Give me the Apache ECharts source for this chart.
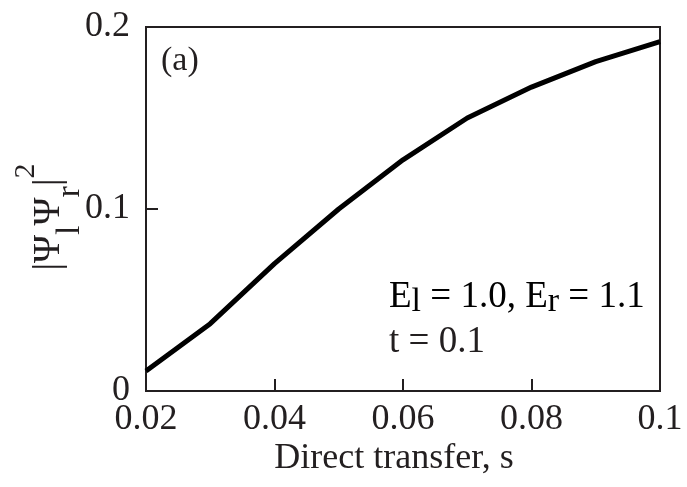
<!DOCTYPE html>
<html>
<head>
<meta charset="utf-8">
<script src="https://cdn.jsdelivr.net/npm/echarts@6/dist/echarts.min.js"></script>
<style>
  html, body { margin: 0; padding: 0; background: #fff; }
  #chart { width: 687px; height: 487px; }
</style>
</head>
<body>
<div id="chart"></div>
<script>
// direct transfer s (x) and overlap |Psi_l Psi_r|^2 (y)
const transfer = [0.02, 0.03, 0.04, 0.05, 0.06, 0.07, 0.08, 0.09, 0.1]
const overlap = [0.011, 0.037, 0.070, 0.100, 0.127, 0.150, 0.167, 0.181, 0.192]

const panelLabel = '(a)'
const energyText = '{m|E}{s|l}{m| = 1.0, E}{s|r}{m| = 1.1}'
const hoppingText = 't = 0.1'
const yTitle = '{m||Ψ}{s|l}{m|Ψ}{s|r}{m||}{p|2}'

const serif = "'Liberation Serif', 'Times New Roman', serif"
const ink = '#231f20'

// subscripts sit a few px low, nearly full size, like the original
const noteRich = {
  m: { fontSize: 37, lineHeight: 44, fontFamily: serif, color: ink },
  s: { fontSize: 34, lineHeight: 26, fontFamily: serif, color: ink, verticalAlign: 'bottom' }
}
const titleRich = {
  m: { fontSize: 38, lineHeight: 76, fontFamily: serif, color: ink },
  s: { fontSize: 34, lineHeight: 64, fontFamily: serif, color: ink, verticalAlign: 'bottom' },
  p: { fontSize: 30, lineHeight: 30, fontFamily: serif, color: ink, verticalAlign: 'top' }
}

const chart = echarts.init(document.getElementById('chart'))
const fmt = v => String(Math.round(v * 100) / 100)

const option = {
  animation: false,
  backgroundColor: '#fff',
  grid: {
    left: 146,
    right: 27,
    top: 27,
    bottom: 96,
    outerBoundsMode: 'none',
    containLabel: false,
    show: true,
    borderColor: ink,
    borderWidth: 2
  },
  xAxis: {
    type: 'value',
    min: 0.02,
    max: 0.1,
    interval: 0.02,
    name: 'Direct transfer, s',
    nameLocation: 'middle',
    nameGap: 50,
    nameMoveOverlap: false,
    nameTextStyle: { fontSize: 36, fontFamily: serif, color: ink, padding: [0, 18, 0, 0] },
    axisLine: { lineStyle: { color: ink, width: 2 } },
    axisTick: { inside: true, length: 12, lineStyle: { color: ink, width: 2 } },
    axisLabel: { margin: 11, fontSize: 36, fontFamily: serif, color: ink, formatter: fmt },
    splitLine: { show: false }
  },
  yAxis: {
    type: 'value',
    min: 0,
    max: 0.2,
    interval: 0.1,
    name: yTitle,
    nameLocation: 'middle',
    nameRotate: 90,
    nameGap: 59,
    nameMoveOverlap: false,
    nameTextStyle: { rich: titleRich, padding: [0, 16, 0, 0] },
    axisLine: { lineStyle: { color: ink, width: 2 } },
    axisTick: { inside: true, length: 12, lineStyle: { color: ink, width: 2 } },
    axisLabel: { margin: 16, fontSize: 36, fontFamily: serif, color: ink, formatter: fmt },
    splitLine: { show: false }
  },
  series: [
    {
      type: 'line',
      data: transfer.map((x, i) => [x, overlap[i]]),
      showSymbol: false,
      lineStyle: { color: '#000', width: 5 }
    }
  ],
  graphic: [
    {
      type: 'text',
      left: 161,
      top: 44,
      style: { text: panelLabel, font: '34px ' + serif, fill: ink }
    },
    {
      type: 'text',
      left: 389,
      top: 279,
      style: { text: energyText, rich: noteRich }
    },
    {
      type: 'text',
      left: 389,
      top: 324,
      style: { text: hoppingText, font: '37px ' + serif, fill: ink }
    }
  ]
}

chart.setOption(option)
</script>
</body>
</html>
